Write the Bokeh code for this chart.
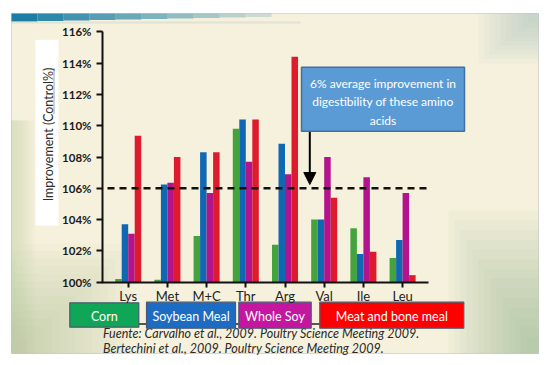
from math import pi
from bokeh.plotting import figure
from bokeh.models import (ColumnDataSource, Range1d, LinearAxis, FixedTicker,
                          Arrow, NormalHead)
from bokeh.transform import dodge
from bokeh.core.properties import value
from bokeh.embed import file_html
from bokeh.resources import INLINE

# ---------------- data ----------------
categories = ["Lys", "Met", "M+C", "Thr", "Arg", "Val", "Ile", "Leu"]
series = ["Corn", "Soybean Meal", "Whole Soy", "Meat and bone meal"]
corn = [100.2, 100.15, 102.95, 109.8, 102.4, 104.0, 103.45, 101.55]
soybean_meal = [103.7, 106.25, 108.3, 110.4, 108.85, 104.0, 101.8, 102.7]
whole_soy = [103.1, 106.35, 105.7, 107.7, 106.9, 108.0, 106.7, 105.7]
meat_bone_meal = [109.35, 108.0, 108.3, 110.4, 114.4, 105.4, 101.95, 100.45]
y_ticks = [100, 102, 104, 106, 108, 110, 112, 114, 116]
avg_line = 106
note = ["6% average improvement in", "digestibility of these amino", "acids"]
sources = ["Fuente: Carvalho et al., 2009. Poultry Science Meeting 2009.",
           "Bertechini et al., 2009. Poultry Science Meeting 2009."]
y_title = "Improvement  (Control%)"

bar_colors = ["#44A33D", "#1068B3", "#B3148D", "#DE1A2D"]
legend_colors = ["#0FA657", "#1B6CC2", "#C2179E", "#FF0000"]

# ---------------- layout helpers (image pixel -> data) ----------------
W, H = 540, 357
OX, OY = 0, 0
X0, SX = 127.7, 39.2      # category 0 position and px per category
Y0, SY = 281.7, 15.65     # 100% position and px per 1%


def X(px):
    return (px - X0) / SX


def Y(py):
    return 100 + (Y0 - py) / SY


p = figure(width=W, height=H,
           x_range=Range1d(X(OX), X(OX + W)),
           y_range=Range1d(Y(OY + H), Y(OY)),
           x_axis_type=None, y_axis_type=None,
           min_border=0, toolbar_location=None, output_backend="svg")
p.outline_line_color = None
p.background_fill_color = "white"
p.border_fill_color = "white"

# ---------------- slide background ----------------
p.quad(left=X(11), right=X(538), top=Y(13), bottom=Y(353),
       fill_color="#F6F1DC", line_color="#D8D8D0", line_width=1)
# soft tints
for i in range(14):
    w = 120 - i * 8
    h = 110 - i * 7.5
    p.quad(left=X(11), right=X(11 + w), top=Y(353 - h), bottom=Y(353),
           fill_color="#A3AE86", fill_alpha=0.045, line_color=None)
    p.quad(left=X(538 - w * 0.75), right=X(538), top=Y(353 - h * 1.3), bottom=Y(353),
           fill_color="#86AA90", fill_alpha=0.05, line_color=None)
for i in range(10):
    w = 60 - i * 5.5
    h = 50 - i * 4.5
    p.quad(left=X(538 - w), right=X(538), top=Y(13), bottom=Y(13 + h),
           fill_color="#93C2BF", fill_alpha=0.06, line_color=None)
    p.quad(left=X(11), right=X(11 + 24 - i * 2.2), top=Y(120), bottom=Y(353),
           fill_color="#B9C49E", fill_alpha=0.04, line_color=None)
for i in range(10):
    p.quad(left=X(11 + i * 26), right=X(11 + (i + 1) * 26), top=Y(13),
           bottom=Y(21 - i * 0.5), fill_color="#1B7EA4",
           fill_alpha=1 - i * 0.09, line_color=None)
p.quad(left=X(11), right=X(300), top=Y(21), bottom=Y(23),
       fill_color="#C9D6D0", fill_alpha=0.5, line_color=None)

# ---------------- y title box ----------------
p.quad(left=X(35), right=X(58), top=Y(39.3), bottom=Y(225),
       fill_color="white", line_color=None)
p.text(x=[X(47.5)], y=[Y(132.4)], text=[y_title], angle=pi / 2,
       text_font=value("Lato"), text_font_size="12.5px", text_color="#2E2E2E",
       text_align="center", text_baseline="middle")
p.segment(x0=[X(53.5)], y0=[Y(68)], x1=[X(53.5)], y1=[Y(113)],
          line_color="#3A4A6A", line_width=1, line_dash="1 1")

# ---------------- bars ----------------
src = ColumnDataSource(dict(x=list(range(len(categories))), corn=corn,
                            soy=soybean_meal, whole=whole_soy, meat=meat_bone_meal))
bw = 0.166
for k, (col, c) in enumerate(zip(["corn", "soy", "whole", "meat"], bar_colors)):
    p.vbar(x=dodge("x", (k - 1.5) * bw, range=p.x_range), top=col, bottom=100,
           width=bw, source=src, fill_color=c, line_color=None)

# ---------------- axes ----------------
yaxis = LinearAxis(fixed_location=X(102), bounds=(y_ticks[0], y_ticks[-1]),
                   ticker=FixedTicker(ticks=y_ticks),
                   major_label_overrides={t: f"{t}%" for t in y_ticks})
yaxis.axis_line_width = 2
yaxis.axis_line_color = "#111111"
yaxis.major_tick_line_width = 2
yaxis.major_tick_line_color = "#111111"
yaxis.major_tick_out = 6
yaxis.major_tick_in = 0
yaxis.minor_tick_out = 0
yaxis.minor_tick_in = 0
yaxis.major_label_standoff = 5
yaxis.major_label_text_font = "Lato"
yaxis.major_label_text_font_style = "bold"
yaxis.major_label_text_font_size = "11.5px"
yaxis.major_label_text_color = "#1A1A1A"
p.add_layout(yaxis, "left")

xaxis = LinearAxis(fixed_location=100, bounds=(X(101), X(428)),
                   ticker=FixedTicker(ticks=list(range(len(categories)))),
                   major_label_overrides={i: c for i, c in enumerate(categories)})
xaxis.axis_line_width = 2
xaxis.axis_line_color = "#111111"
xaxis.major_tick_line_width = 2
xaxis.major_tick_line_color = "#111111"
xaxis.major_tick_out = 5
xaxis.major_tick_in = 0
xaxis.minor_tick_out = 0
xaxis.minor_tick_in = 0
xaxis.major_label_standoff = 1
xaxis.major_label_text_font = "Lato"
xaxis.major_label_text_font_size = "13px"
xaxis.major_label_text_color = "#222222"
p.add_layout(xaxis, "below")

# ---------------- dashed average line ----------------
p.segment(x0=[X(107)], y0=[avg_line], x1=[X(428)], y1=[avg_line],
          line_color="#111111", line_width=2.5, line_dash="7 5")

# ---------------- note box + arrow ----------------
p.quad(left=X(301), right=X(464), top=Y(66.7), bottom=Y(130.7),
       fill_color="#5B9BD5", line_color="#41719C", line_width=1.5)
p.text(x=[X(382.5)] * 3, y=[Y(82.5), Y(101.2), Y(120)], text=note,
       text_font=value("Lato"), text_font_size="12px", text_color="white",
       text_align="center", text_baseline="middle")
p.add_layout(Arrow(end=NormalHead(size=12, fill_color="black", line_color="black"),
                   x_start=X(309.3), y_start=Y(131.5), x_end=X(309.3), y_end=Y(184),
                   line_width=2, line_color="black"))

# ---------------- source text ----------------
p.text(x=[X(102.5)] * 2, y=[Y(333), Y(348.3)], text=sources,
       text_font=value("Lato"), text_font_style="italic", text_font_size="12.5px",
       text_color="#2A2A2A", text_align="left", text_baseline="middle")

# ---------------- legend boxes ----------------
p.segment(x0=[X(138)], y0=[Y(323.5)], x1=[X(320)], y1=[Y(323.5)],
          line_color="#222222", line_width=1.5)
lb = [(69.3, 138.3, 302.3, 326.7), (146, 235, 301.7, 327.7),
      (238.3, 310.7, 301.7, 327.7), (319.3, 463.3, 301.7, 327.7)]
for (l, r, t, b), c, name in zip(lb, legend_colors, series):
    p.quad(left=X(l), right=X(r), top=Y(t), bottom=Y(b),
           fill_color=c, line_color="#4A5A70", line_width=1.2)
    p.text(x=[X((l + r) / 2)], y=[Y((t + b) / 2 + 1)], text=[name],
           text_font=value("Lato"), text_font_size="12.5px", text_color="white",
           text_align="center", text_baseline="middle")

open("out.html", "w").write(file_html(p, INLINE))
